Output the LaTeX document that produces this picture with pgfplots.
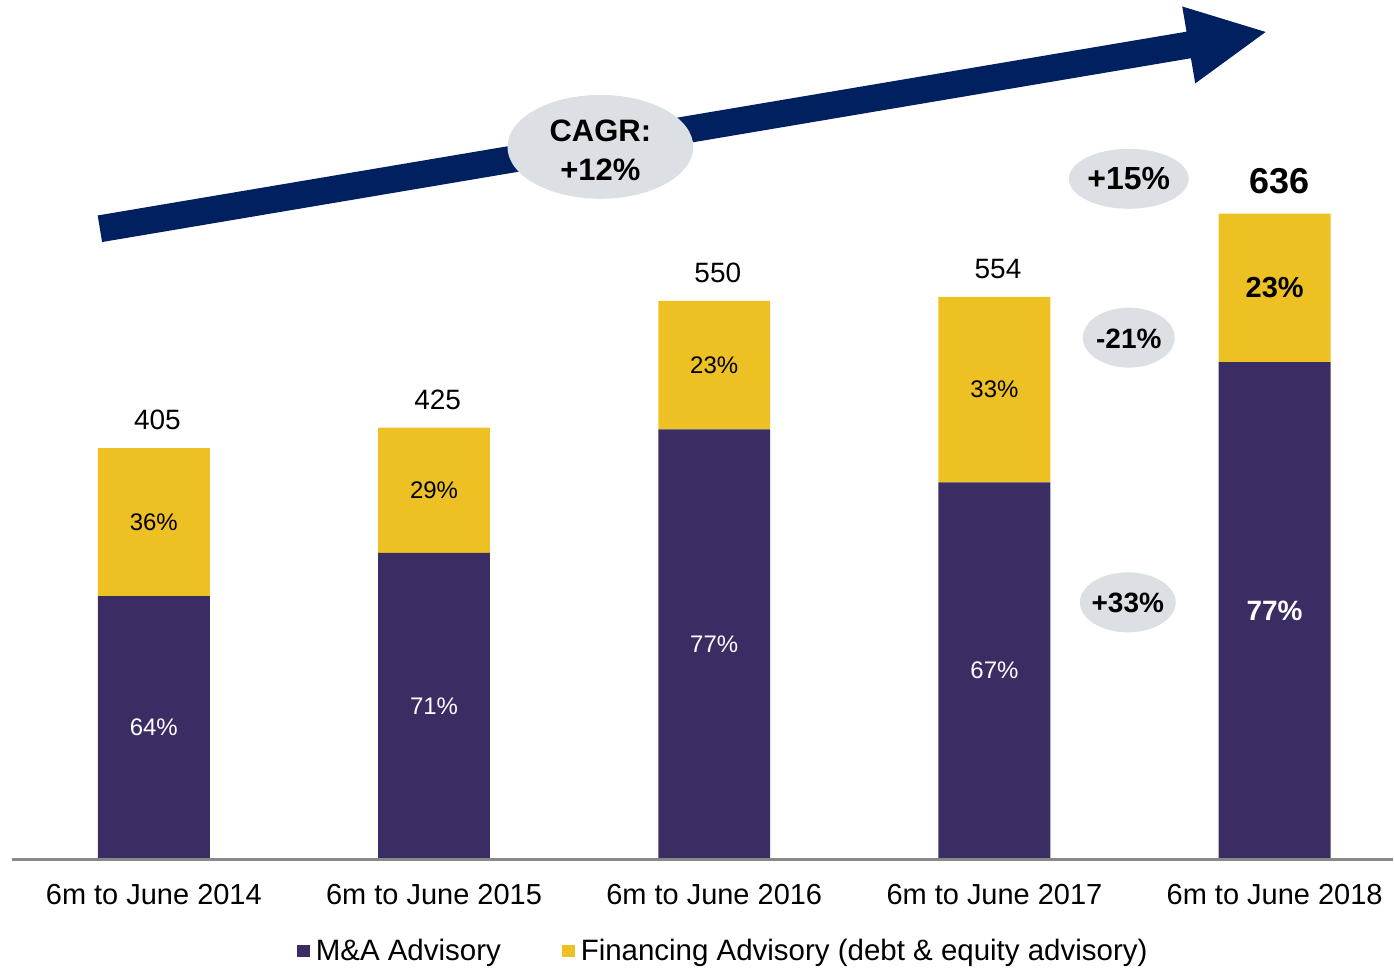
\documentclass[border=0pt]{standalone}
\usepackage{fontspec}
\setmainfont{Liberation Sans}
\usepackage{pgfplots}
\pgfplotsset{compat=1.18}
\definecolor{maPurple}{RGB}{59,45,99}
\definecolor{finYellow}{RGB}{237,193,36}
\definecolor{navy}{RGB}{0,32,96}
\definecolor{bubble}{RGB}{220,224,228}
\definecolor{axgray}{RGB}{137,137,137}
\newcommand{\fs}[1]{\fontsize{#1}{#1}\selectfont}

\begin{document}
\begin{tikzpicture}
% pixel frame: 1 px = 0.5pt, origin top-left of the picture
\begin{scope}[x=0.5pt,y=-0.5pt,shift={(-6pt,430pt)}]
 \path[use as bounding box] (0,0) rectangle (1394,969);
\end{scope}

\begin{axis}[x=140.25pt,y=0.508pt,
 xmin=-0.5062,xmax=4.4207,ymin=0,ymax=846.46,
 ybar stacked,bar width=56pt,clip=false,axis on top,
 axis x line=bottom,axis y line=none,
 axis line style={-,draw=axgray,line width=1.5pt},
 xtick={0,...,4},major tick length=0pt,
 xticklabels={6m to June 2014,6m to June 2015,6m to June 2016,6m to June 2017,6m to June 2018},
 xticklabel style={font=\fs{14.5},anchor=center,yshift=-17.5pt},
 legend columns=2,
 legend style={at={(0.5155,-0.107)},anchor=center,draw=none,fill=none,
   font=\fs{14.75},/tikz/every even column/.append style={column sep=29pt},
   nodes={inner sep=1.5pt}},
 legend image code/.code={\fill[#1] (0pt,-3.25pt) rectangle (6.5pt,3.25pt);
   \path (8pt,0pt);},
]
\addplot[fill=maPurple,draw=none] coordinates {(0,259.2) (1,301.75) (2,423.5) (3,371.2) (4,489.7)};
\addlegendentry{M\&A Advisory}
\addplot[fill=finYellow,draw=none] coordinates {(0,145.8) (1,123.25) (2,126.5) (3,182.8) (4,146.3)};
\addlegendentry{Financing Advisory (debt \& equity advisory)}

% segment centres, labelled after the axis so they sit above the bars
\coordinate (m0) at (axis cs:0,129.6);
\coordinate (m1) at (axis cs:1,150.9);
\coordinate (m2) at (axis cs:2,211.8);
\coordinate (m3) at (axis cs:3,185.6);
\coordinate (m4) at (axis cs:4,244.9);
\coordinate (f0) at (axis cs:0,332.1);
\coordinate (f1) at (axis cs:1,363.4);
\coordinate (f2) at (axis cs:2,486.8);
\coordinate (f3) at (axis cs:3,462.6);
\coordinate (f4) at (axis cs:4,562.9);
% totals
\node[font=\fs{14},xshift=1.8pt,yshift=14pt] at (axis cs:0,405) {405};
\node[font=\fs{14},xshift=1.8pt,yshift=14pt] at (axis cs:1,425) {425};
\node[font=\fs{14},xshift=1.8pt,yshift=14pt] at (axis cs:2,550) {550};
\node[font=\fs{14},xshift=1.8pt,yshift=14pt] at (axis cs:3,554) {554};
\node[font=\bfseries\fs{18},xshift=2.5pt,yshift=16pt] at (axis cs:4,636) {636};
\end{axis}

\foreach \c/\t in {m0/64,m1/71,m2/77,m3/67} \node[font=\fs{12},white] at (\c) {\t\%};
\foreach \c/\t in {f0/36,f1/29,f2/23,f3/33} \node[font=\fs{12}] at (\c) {\t\%};
\node[font=\bfseries\fs{14},white] at (m4) {77\%};
\node[font=\bfseries\fs{14.5}] at (f4) {23\%};

\begin{scope}[x=0.5pt,y=-0.5pt,shift={(-6pt,430pt)}]
 \fill[navy] (97.8,215.7) -- (1187.8,31.7) -- (1183.5,6.5) -- (1267,32)
   -- (1196.5,83.5) -- (1192.2,58.3) -- (102.2,242.3) -- cycle;
 \fill[bubble] (601,147) ellipse [x radius=93,y radius=52];
 \node[font=\bfseries\fs{15.5},align=center] at (601,150) {CAGR:\\[4pt]+12\%};
 \fill[bubble] (1130,179) ellipse [x radius=60,y radius=30];
 \node[font=\bfseries\fs{16}] at (1130,179) {+15\%};
 \fill[bubble] (1130,338) ellipse [x radius=46,y radius=30];
 \node[font=\bfseries\fs{14}] at (1130,339) {-21\%};
 \fill[bubble] (1129,603) ellipse [x radius=48,y radius=30];
 \node[font=\bfseries\fs{14}] at (1129,604) {+33\%};
\end{scope}
\end{tikzpicture}
\end{document}
